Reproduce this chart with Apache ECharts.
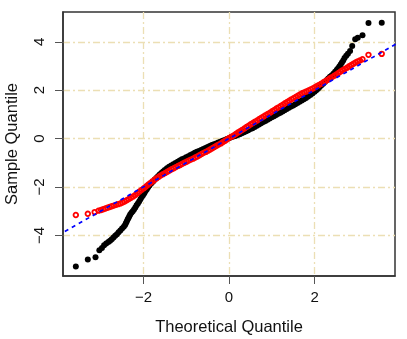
<!DOCTYPE html>
<html>
<head>
<meta charset="utf-8">
<script src="https://cdn.jsdelivr.net/npm/echarts@6/dist/echarts.min.js"></script>
<style>
  html, body { margin: 0; padding: 0; background: #fff; }
  #chart { width: 407px; height: 339px; }
</style>
</head>
<body>
<div id="chart"></div>
<script>
// heavy-tailed sample: [theoretical quantile, sample quantile]
const heavySample = [
  [-3.58, -5.29], [-3.30, -5.00], [-3.12, -4.90], [-3.03, -4.62], [-2.97, -4.52],
  [-2.92, -4.41], [-2.87, -4.34], [-2.82, -4.28], [-2.78, -4.22], [-2.74, -4.16],
  [-2.70, -4.09], [-2.66, -4.02], [-2.62, -3.95], [-2.58, -3.87], [-2.54, -3.80],
  [-2.50, -3.72], [-2.46, -3.64], [-2.43, -3.57], [-2.41, -3.50], [-2.39, -3.43],
  [-2.37, -3.35], [-2.35, -3.28], [-2.33, -3.21], [-2.31, -3.14], [-2.28, -3.07],
  [-2.25, -3.00], [-2.22, -2.93], [-2.19, -2.85], [-2.16, -2.76], [-2.13, -2.68],
  [-2.10, -2.60], [-2.07, -2.51], [-2.04, -2.42], [-2.01, -2.34], [-1.98, -2.26],
  [-1.95, -2.17], [-1.92, -2.09], [-1.89, -2.01], [-1.86, -1.94], [-1.82, -1.86],
  [-1.78, -1.78], [-1.74, -1.70], [-1.70, -1.63], [-1.66, -1.56], [-1.62, -1.49],
  [-1.58, -1.42], [-1.54, -1.36], [-1.50, -1.30], [-1.45, -1.23], [-1.40, -1.17],
  [-1.35, -1.11], [-1.30, -1.06], [-1.25, -1.01], [-1.20, -0.96], [-1.15, -0.91],
  [-1.10, -0.86], [-1.05, -0.82], [-1.00, -0.77], [-0.95, -0.73], [-0.90, -0.68],
  [-0.85, -0.64], [-0.80, -0.59], [-0.75, -0.55], [-0.70, -0.51], [-0.65, -0.47],
  [-0.60, -0.43], [-0.55, -0.39], [-0.50, -0.35], [-0.45, -0.31], [-0.40, -0.27],
  [-0.35, -0.24], [-0.30, -0.20], [-0.25, -0.16], [-0.20, -0.13], [-0.15, -0.09],
  [-0.10, -0.06], [-0.05, -0.02], [0.00, 0.01], [0.05, 0.05], [0.10, 0.08],
  [0.15, 0.11], [0.20, 0.15], [0.25, 0.18], [0.30, 0.22], [0.35, 0.26],
  [0.40, 0.30], [0.45, 0.34], [0.50, 0.39], [0.55, 0.43], [0.60, 0.48],
  [0.65, 0.53], [0.70, 0.58], [0.75, 0.63], [0.80, 0.68], [0.85, 0.73],
  [0.90, 0.78], [0.95, 0.83], [1.00, 0.88], [1.05, 0.92], [1.10, 0.97],
  [1.15, 1.02], [1.20, 1.07], [1.25, 1.12], [1.30, 1.17], [1.35, 1.22],
  [1.40, 1.27], [1.45, 1.32], [1.50, 1.37], [1.55, 1.42], [1.60, 1.47],
  [1.65, 1.52], [1.70, 1.57], [1.75, 1.62], [1.80, 1.68], [1.85, 1.74],
  [1.90, 1.80], [1.95, 1.86], [2.00, 1.93], [2.04, 2.00], [2.08, 2.06],
  [2.12, 2.13], [2.16, 2.20], [2.20, 2.27], [2.24, 2.34], [2.28, 2.41],
  [2.32, 2.48], [2.36, 2.55], [2.40, 2.61], [2.44, 2.68], [2.48, 2.76],
  [2.52, 2.84], [2.55, 2.91], [2.58, 2.98], [2.61, 3.06], [2.64, 3.14],
  [2.67, 3.23], [2.70, 3.33], [2.74, 3.42], [2.78, 3.50], [2.83, 3.62],
  [2.88, 3.83], [2.95, 4.10], [3.01, 4.17], [3.12, 4.27], [3.26, 4.78],
  [3.57, 4.79]
]

// normal sample: [theoretical quantile, sample quantile]
const normalSample = [
  [-3.58, -3.16], [-3.30, -3.11], [-3.14, -3.04], [-3.05, -2.98], [-2.99, -2.95],
  [-2.94, -2.92], [-2.89, -2.89], [-2.84, -2.86], [-2.79, -2.83], [-2.74, -2.80],
  [-2.69, -2.77], [-2.64, -2.74], [-2.59, -2.71], [-2.54, -2.68], [-2.49, -2.64],
  [-2.44, -2.60], [-2.39, -2.55], [-2.34, -2.50], [-2.29, -2.45], [-2.24, -2.39],
  [-2.19, -2.33], [-2.14, -2.26], [-2.09, -2.19], [-2.04, -2.12], [-1.99, -2.05],
  [-1.94, -1.98], [-1.89, -1.91], [-1.84, -1.84], [-1.79, -1.77], [-1.74, -1.70],
  [-1.69, -1.64], [-1.64, -1.58], [-1.59, -1.52], [-1.54, -1.47], [-1.49, -1.42],
  [-1.44, -1.37], [-1.39, -1.32], [-1.34, -1.27], [-1.29, -1.23], [-1.24, -1.18],
  [-1.19, -1.13], [-1.14, -1.09], [-1.09, -1.04], [-1.04, -1.00], [-0.99, -0.96],
  [-0.94, -0.91], [-0.89, -0.87], [-0.84, -0.83], [-0.79, -0.78], [-0.74, -0.74],
  [-0.69, -0.69], [-0.64, -0.64], [-0.59, -0.59], [-0.54, -0.55], [-0.49, -0.50],
  [-0.44, -0.45], [-0.39, -0.40], [-0.34, -0.35], [-0.29, -0.30], [-0.24, -0.25],
  [-0.19, -0.20], [-0.14, -0.14], [-0.09, -0.09], [-0.04, -0.03], [0.01, 0.03],
  [0.06, 0.08], [0.11, 0.13], [0.16, 0.19], [0.21, 0.25], [0.26, 0.30],
  [0.31, 0.36], [0.36, 0.42], [0.41, 0.48], [0.46, 0.53], [0.51, 0.59],
  [0.56, 0.64], [0.61, 0.70], [0.66, 0.75], [0.71, 0.81], [0.76, 0.86],
  [0.81, 0.91], [0.86, 0.97], [0.91, 1.02], [0.96, 1.07], [1.01, 1.13],
  [1.06, 1.18], [1.11, 1.24], [1.16, 1.29], [1.21, 1.35], [1.26, 1.40],
  [1.31, 1.46], [1.36, 1.51], [1.41, 1.56], [1.46, 1.62], [1.51, 1.67],
  [1.56, 1.72], [1.61, 1.77], [1.66, 1.82], [1.71, 1.87], [1.76, 1.91],
  [1.81, 1.95], [1.86, 1.99], [1.91, 2.03], [1.96, 2.07], [2.01, 2.12],
  [2.06, 2.17], [2.11, 2.22], [2.16, 2.27], [2.21, 2.33], [2.26, 2.38],
  [2.31, 2.43], [2.36, 2.49], [2.41, 2.54], [2.46, 2.60], [2.51, 2.65],
  [2.56, 2.71], [2.61, 2.77], [2.66, 2.83], [2.71, 2.88], [2.76, 2.93],
  [2.81, 2.99], [2.86, 3.04], [2.91, 3.09], [2.96, 3.14], [3.01, 3.19],
  [3.06, 3.23], [3.12, 3.28], [3.26, 3.46], [3.57, 3.50]
]

// reference line y = x (clipped by the grid)
const refLine = [[-4, -4], [4, 4]]

const xTicks = [-2, 0, 2]
const yTicks = [-4, -2, 0, 2, 4]

const FONT = "Liberation Sans, Arial, sans-serif"
const GRID_COLOR = "#ecdfb4"
const minus = (v) => String(v).replace("-", "\u2212")

// R style box + beige dot-dash grid
function makeAxis (name, ticks, extra) {
  return Object.assign({
    type: "value",
    name: name,
    nameLocation: "middle",
    nameGap: 43,
    nameTextStyle: { fontFamily: FONT, fontSize: 16.5, color: "#111" },
    axisLine: { show: true, onZero: false, lineStyle: { color: "#333", width: 1.5 } },
    axisTick: { show: true, inside: false, length: 8, customValues: ticks, lineStyle: { color: "#555", width: 1 } },
    axisLabel: { customValues: ticks, fontFamily: FONT, fontSize: 15, color: "#111", formatter: minus },
    splitLine: {
      show: true,
      lineStyle: { color: [GRID_COLOR], width: 1.3, type: [7, 3, 2, 3] }
    }
  }, extra)
}

const chart = echarts.init(document.getElementById("chart"))

const xAxis = makeAxis("Theoretical Quantile", xTicks, { min: -3.88, max: 3.88 })
xAxis.axisLabel.margin = 14

const yAxis = makeAxis("Sample Quantile", yTicks, { min: -5.68, max: 5.23 })
yAxis.nameGap = 42
yAxis.axisLabel.margin = 16
yAxis.axisLabel.rotate = 90

chart.setOption({
  animation: false,
  backgroundColor: "#fff",
  grid: {
    left: 63,
    top: 12,
    right: 12,
    bottom: 63,
    outerBoundsMode: "none",
    containLabel: false,
    show: true,
    borderColor: "#333",
    borderWidth: 1.5
  },
  xAxis: xAxis,
  yAxis: yAxis,
  series: [
    {
      type: "scatter",
      data: heavySample,
      symbol: "circle",
      symbolSize: 6,
      itemStyle: { color: "#000", opacity: 1 },
      silent: true,
      z: 2
    },
    {
      type: "scatter",
      data: normalSample,
      symbol: "circle",
      symbolSize: 4.6,
      itemStyle: { color: "rgba(0,0,0,0)", borderColor: "#ff0000", borderWidth: 1.8, opacity: 1 },
      silent: true,
      z: 3
    },
    {
      type: "line",
      data: refLine,
      symbol: "none",
      lineStyle: { color: "#0000ff", width: 1.7, type: [4, 4] },
      silent: true,
      z: 4
    }
  ]
})
</script>
</body>
</html>
